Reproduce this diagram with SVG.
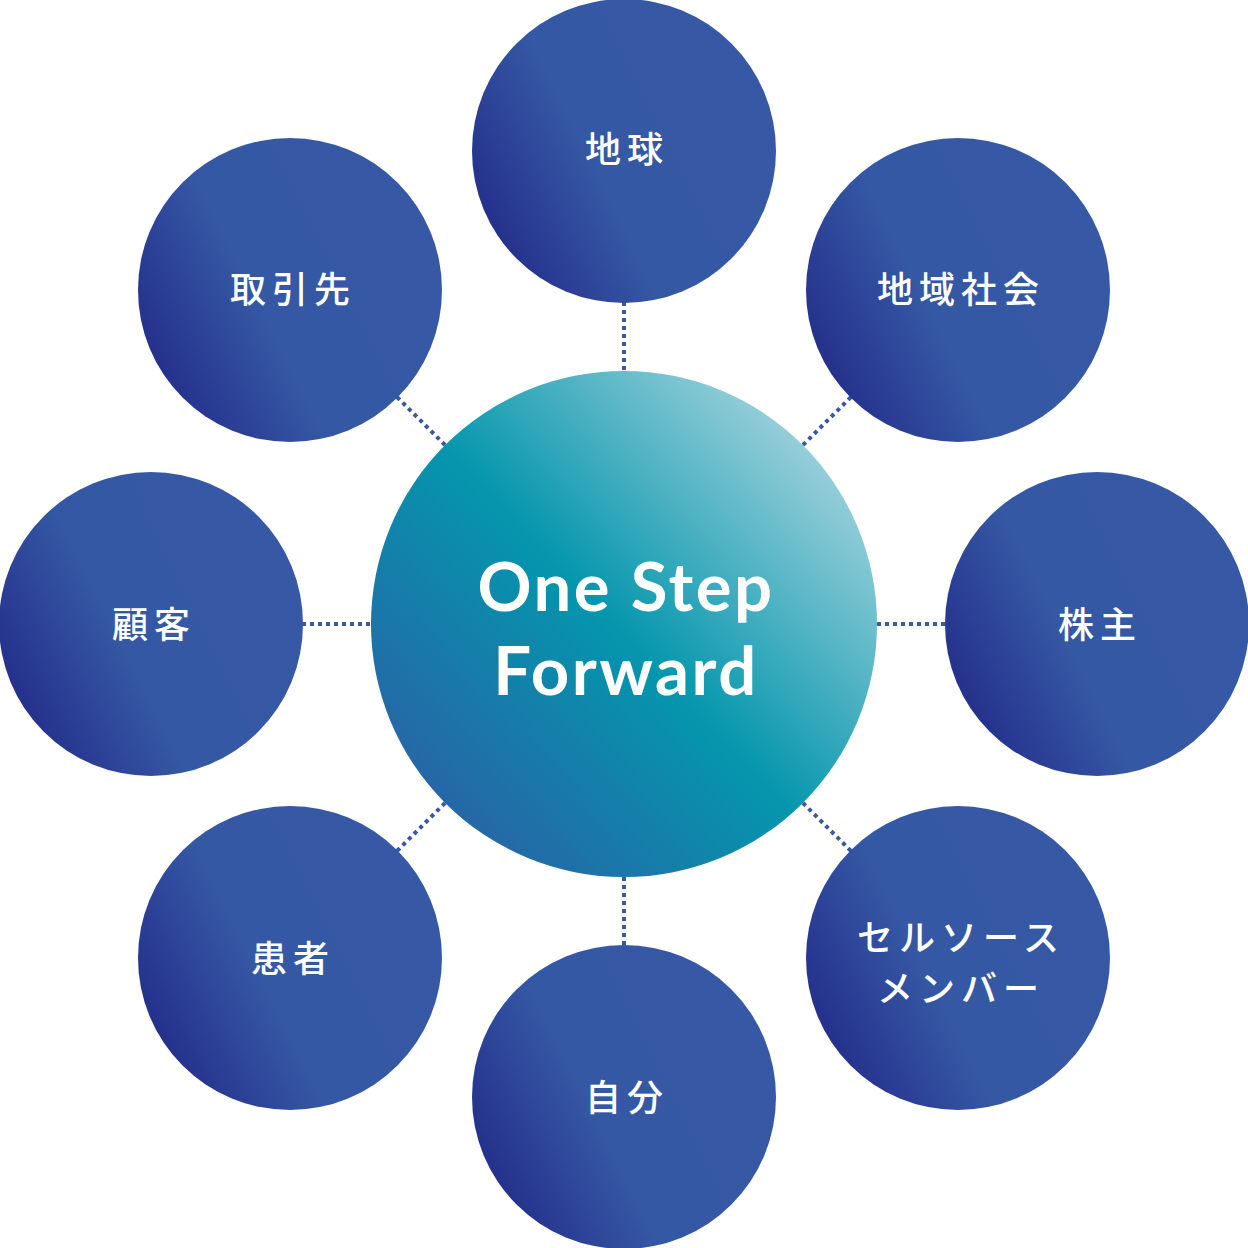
<svg xmlns="http://www.w3.org/2000/svg" width="1248" height="1248" viewBox="0 0 1248 1248">
<defs>
<linearGradient id="gOuter" x1="0" y1="0.8" x2="1" y2="0.3">
<stop offset="0" stop-color="#222988"/>
<stop offset="0.42" stop-color="#3558a4"/>
<stop offset="1" stop-color="#3759a5"/>
</linearGradient>
<linearGradient id="gCenter" x1="0.05" y1="0.95" x2="0.95" y2="0.1">
<stop offset="0" stop-color="#2f5aa5"/>
<stop offset="0.5" stop-color="#0496ad"/>
<stop offset="1" stop-color="#b2d9e1"/>
</linearGradient>
</defs>
<style>
.conn line{stroke:#3a5aa0;stroke-width:4;stroke-dasharray:4 4;}
.outer{fill:url(#gOuter);}
.lbl{font-family:"Noto Sans CJK JP","Noto Sans",sans-serif;font-size:36px;font-weight:500;fill:#ffffff;text-anchor:middle;letter-spacing:6px;}
.ctr{font-family:Lato,"Open Sans",sans-serif;font-size:67px;font-weight:700;fill:#ffffff;text-anchor:middle;letter-spacing:2.5px;}
</style>
<rect width="1248" height="1248" fill="#ffffff"/>
<g id="connectors" class="conn">
<line x1="624" y1="302" x2="624" y2="371"/>
<line x1="624" y1="877" x2="624" y2="945"/>
<line x1="302" y1="624" x2="371" y2="624"/>
<line x1="877" y1="624" x2="945" y2="624"/>
<line x1="397" y1="397" x2="446" y2="446"/>
<line x1="851" y1="397" x2="802" y2="446"/>
<line x1="397" y1="851" x2="446" y2="802"/>
<line x1="851" y1="851" x2="802" y2="802"/>
</g>
<g id="center">
<circle cx="624" cy="624" r="253" fill="url(#gCenter)"/>
<text class="ctr" x="626" y="611">One Step</text>
<text class="ctr" x="626" y="695">Forward</text>
</g>
<g id="n-chikyu"><circle class="outer" cx="624" cy="151" r="152"/><text class="lbl" x="627" y="163">地球</text></g>
<g id="n-chiikishakai"><circle class="outer" cx="958" cy="290" r="152"/><text class="lbl" x="961" y="303">地域社会</text></g>
<g id="n-kabunushi"><circle class="outer" cx="1097" cy="624" r="152"/><text class="lbl" x="1100" y="638">株主</text></g>
<g id="n-cellsource"><circle class="outer" cx="958" cy="958" r="152"/><text class="lbl" x="961" y="951">セルソース</text><text class="lbl" x="961" y="1002">メンバー</text></g>
<g id="n-jibun"><circle class="outer" cx="624" cy="1097" r="152"/><text class="lbl" x="627" y="1111">自分</text></g>
<g id="n-kanja"><circle class="outer" cx="290" cy="958" r="152"/><text class="lbl" x="293" y="972">患者</text></g>
<g id="n-kokyaku"><circle class="outer" cx="151" cy="624" r="152"/><text class="lbl" x="154" y="638">顧客</text></g>
<g id="n-torihikisaki"><circle class="outer" cx="290" cy="290" r="152"/><text class="lbl" x="293" y="303">取引先</text></g>
</svg>
